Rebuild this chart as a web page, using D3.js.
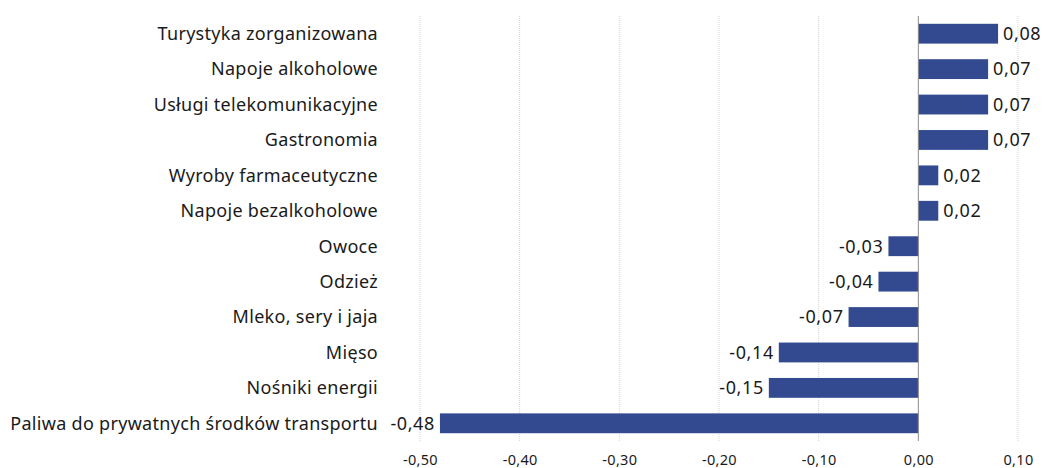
<!DOCTYPE html>
<html>
<head>
<meta charset="utf-8">
<script src="https://cdn.jsdelivr.net/npm/d3@7"></script>
<style>
	body { margin: 0; background: #fff; }
	text { font-family: "Noto Sans", "Open Sans", sans-serif; fill: #1a1a1a; }
</style>
</head>
<body>
<div id="chart"></div>
<script>
var categories = [
	"Turystyka zorganizowana",
	"Napoje alkoholowe",
	"Usługi telekomunikacyjne",
	"Gastronomia",
	"Wyroby farmaceutyczne",
	"Napoje bezalkoholowe",
	"Owoce",
	"Odzież",
	"Mleko, sery i jaja",
	"Mięso",
	"Nośniki energii",
	"Paliwa do prywatnych środków transportu"
];
var values = [0.08, 0.07, 0.07, 0.07, 0.02, 0.02, -0.03, -0.04, -0.07, -0.14, -0.15, -0.48];
var ticks = [-0.5, -0.4, -0.3, -0.2, -0.1, 0, 0.1];

var width = 1044;
var height = 468;

var fmt = function(v) { return d3.format(".2f")(v).replace(".", ",").replace("−", "-"); };

var svg = d3.select("#chart")
	.append("svg")
	.attr("width", width)
	.attr("height", height);

var x = d3.scaleLinear().domain([-0.5, 0.1]).range([420, 1018]);
var y = d3.scaleBand().domain(categories).range([16, 441]).paddingInner(0.44).paddingOuter(0.22);

var grid = svg.append("g").attr("class", "grid");
grid.selectAll("line")
	.data(ticks.filter(function(t) { return t !== 0; }))
	.enter()
	.append("line")
	.attr("x1", function(d) { return x(d); })
	.attr("x2", function(d) { return x(d); })
	.attr("y1", 16)
	.attr("y2", 441)
	.attr("stroke", "#d4d4d4")
	.attr("stroke-width", 1)
	.attr("stroke-dasharray", "1,1");

var bars = svg.append("g").attr("class", "bars");
bars.selectAll("rect")
	.data(values)
	.enter()
	.append("rect")
	.attr("x", function(d) { return Math.min(x(d), x(0)); })
	.attr("y", function(d, i) { return y(categories[i]); })
	.attr("width", function(d) { return Math.abs(x(d) - x(0)); })
	.attr("height", y.bandwidth())
	.attr("fill", "#334a91");

svg.append("line")
	.attr("x1", x(0))
	.attr("x2", x(0))
	.attr("y1", 16)
	.attr("y2", 441)
	.attr("stroke", "#8c8c8c")
	.attr("stroke-width", 1);

var labels = svg.append("g").attr("class", "values");
labels.selectAll("text")
	.data(values)
	.enter()
	.append("text")
	.attr("x", function(d) { return d >= 0 ? x(d) + 5 : x(d) - 5; })
	.attr("y", function(d, i) { return y(categories[i]) + y.bandwidth() / 2; })
	.attr("dy", "0.35em")
	.attr("text-anchor", function(d) { return d >= 0 ? "start" : "end"; })
	.style("font-size", "18px")
	.style("letter-spacing", "0.6px")
	.text(fmt);

svg.append("g")
	.selectAll("text")
	.data(categories)
	.enter()
	.append("text")
	.attr("x", 378)
	.attr("y", function(d) { return y(d) + y.bandwidth() / 2; })
	.attr("dy", "0.35em")
	.attr("text-anchor", "end")
	.style("font-size", "18px")
	.style("letter-spacing", "0.3px")
	.text(function(d) { return d; });

var axis = svg.append("g")
	.attr("transform", "translate(0,441)")
	.call(d3.axisBottom(x).tickValues(ticks).tickSize(0).tickPadding(14).tickFormat(fmt));
axis.select(".domain").remove();
axis.selectAll("text")
	.style("font-size", "14.5px")
	.style("letter-spacing", "0.3px")
	.style("font-family", "\"Noto Sans\", sans-serif")
	.attr("fill", "#1a1a1a");
</script>
</body>
</html>
